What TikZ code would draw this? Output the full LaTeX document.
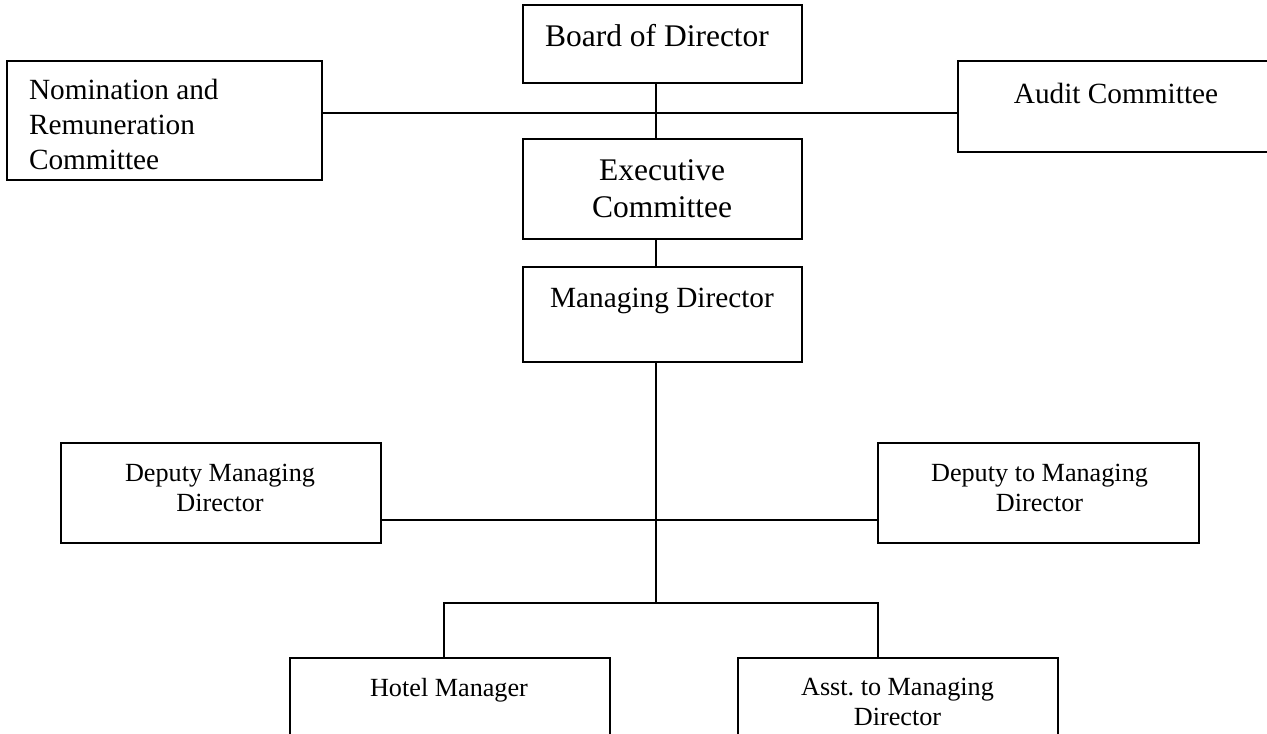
\documentclass[tikz,border=0pt]{standalone}
\usepackage{fontspec}
\setmainfont{Liberation Serif}

\begin{document}
\begin{tikzpicture}[x=0.5pt, y=-0.5pt, line width=1pt,
    box/.style={draw, inner sep=0pt},
    big/.style={anchor=north, inner sep=0pt, align=center, font=\fontsize{15.75}{18.5}\selectfont},
    mid/.style={anchor=north, inner sep=0pt, align=center, font=\fontsize{14.65}{17.5}\selectfont},
    small/.style={anchor=north, inner sep=0pt, align=center, font=\fontsize{13.1}{15}\selectfont}]
    \useasboundingbox (0,0) rectangle (1267,733);
    \clip (0,0) rectangle (1267,733);

    % boxes
    \node [box, minimum width=139.5pt, minimum height=39pt] (board) at (662.5,44) {};
    \node [box, minimum width=157.5pt, minimum height=59.5pt] (nomin) at (164.5,120.5) {};
    \node [box, minimum width=166pt, minimum height=45.5pt] (audit) at (1124,106.5) {};
    \node [box, minimum width=139.5pt, minimum height=50pt] (exec) at (662.5,189) {};
    \node [box, minimum width=139.5pt, minimum height=47.5pt] (md) at (662.5,314.5) {};
    \node [box, minimum width=160pt, minimum height=50pt] (dmd) at (221,493) {};
    \node [box, minimum width=160.5pt, minimum height=50pt] (dtmd) at (1038.5,493) {};
    \node [box, minimum width=160pt, minimum height=56pt] (hotel) at (450,714) {};
    \node [box, minimum width=160pt, minimum height=56pt] (asst) at (898,714) {};

    % texts
    \node [big] (boardtxt) at (657,23) {Board of Director};
    \node [mid, anchor=north west, align=left] (nomintxt) at (28,78) {Nomination and\\Remuneration\\Committee};
    \node [mid] (audittxt) at (1116,82) {Audit Committee};
    \node [big] (exectxt) at (662,159) {Executive\\Committee};
    \node [mid] (mdtxt) at (662,287) {Managing Director};
    \node [small] (dmdtxt) at (220,463) {Deputy Managing\\Director};
    \node [small] (dtmdtxt) at (1039.5,463) {Deputy to Managing\\Director};
    \node [small] (hoteltxt) at (449,677) {Hotel Manager};
    \node [small] (assttxt) at (897.5,677) {Asst.\ to Managing\\Director};

    % joints
    \coordinate (spine) at (656,113);
    \coordinate (split) at (656,520);
    \coordinate (fork) at (656,603);
    \coordinate (hleft) at (444,603);
    \coordinate (hright) at (878,603);

    % connectors
    \draw (board.south -| spine) -- (exec.north -| spine);
    \draw (nomin.east |- spine) -- (audit.west |- spine);
    \draw (exec.south -| spine) -- (md.north -| spine);
    \draw (md.south -| spine) -- (fork);
    \draw (dmd.east |- split) -- (dtmd.west |- split);
    \draw (hleft |- hotel.north) -- (hleft) -- (hright) -- (hright |- asst.north);
\end{tikzpicture}
\end{document}
